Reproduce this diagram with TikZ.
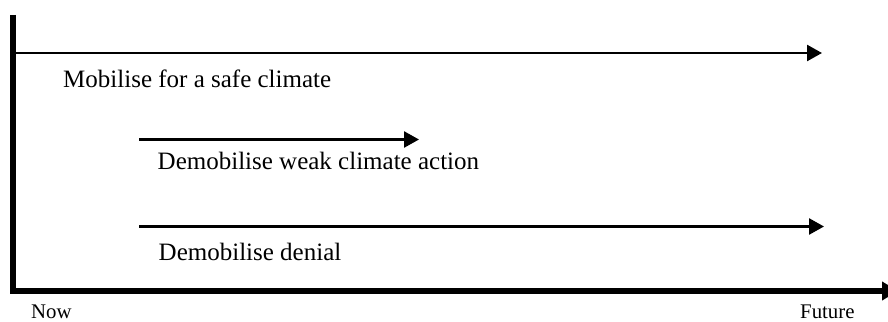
\documentclass[tikz,border=0pt]{standalone}
\usepackage{fontspec}
\setmainfont{Liberation Serif}
\usetikzlibrary{arrows.meta}
\tikzset{
  lane/.style={line width=2.5pt,-{Triangle[length=15pt,width=16pt]}},
  axis/.style={line width=5.5pt,line join=miter,-{Triangle[length=16pt,width=18pt]}},
  lbl/.style={anchor=base west,inner sep=0pt,font=\fontsize{25}{30}\selectfont},
  tick/.style={anchor=base west,inner sep=0pt,font=\fontsize{20.8}{25}\selectfont}
}
\begin{document}
\begin{tikzpicture}[x=1pt,y=-1pt]
\useasboundingbox (0,0) rectangle (888,321);
% axes
\coordinate (top) at (13,15);
\coordinate (corner) at (13,291);
\coordinate (axend) at (898,291);
\draw[axis] (top) -- (corner) -- (axend);
% lanes
\coordinate (a1s) at (16,53);
\coordinate (a1e) at (822,53);
\coordinate (a2s) at (139,139.5);
\coordinate (a2e) at (419,139.5);
\coordinate (a3s) at (139,226.5);
\coordinate (a3e) at (824,226.5);
\draw[lane] (a1s) -- (a1e);
\draw[lane] (a2s) -- (a2e);
\draw[lane] (a3s) -- (a3e);
% labels
\node[lbl] (t1) at (63,87) {Mobilise for a safe climate};
\node[lbl] (t2) at (157.5,169) {Demobilise weak climate action};
\node[lbl] (t3) at (158.5,260) {Demobilise denial};
\node[tick] (now) at (31,318) {Now};
\node[tick] (fut) at (800,318) {Future};
\end{tikzpicture}
\end{document}
